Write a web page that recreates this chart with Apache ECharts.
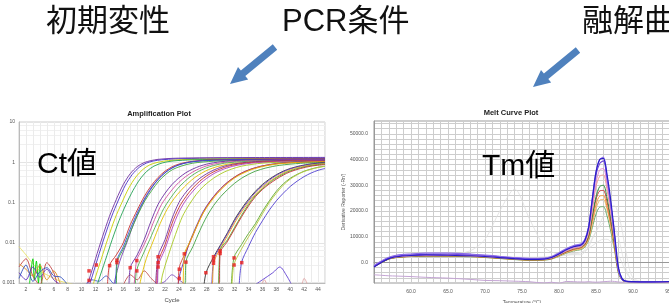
<!DOCTYPE html>
<html>
<head>
    <meta charset="utf-8">
    <title>PCR</title>
    <style>
        html, body { margin: 0; padding: 0; background: #fff; }
        #main { width: 669px; height: 303px; }
    </style>
</head>
<body>
<div id="main"></div>
<script src="https://cdn.jsdelivr.net/npm/echarts@6.0.0/dist/echarts.min.js"></script>
<script>
    // ---- Amplification Plot : [cycle, ΔRn] ----
    var ampA1 = [[10.5,0.0006],[11,0.0011],[12,0.004],[13,0.014],[14,0.045],[15,0.12],[16,0.28],[17,0.52],[18,0.78],[19,0.98],[20,1.1],[21,1.18],[23,1.25],[27,1.29],[35,1.31],[45,1.32]];
    var ampA2 = [[10.8,0.0006],[11.3,0.0011],[12.3,0.004],[13.3,0.014],[14.3,0.044],[15.3,0.115],[16.3,0.27],[17.3,0.5],[18.3,0.75],[19.3,0.95],[20.3,1.07],[21.5,1.15],[23.5,1.21],[28,1.25],[45,1.27]];
    var ampA3 = [[11.3,0.0006],[11.8,0.0011],[12.8,0.0038],[13.8,0.013],[14.8,0.04],[15.8,0.1],[16.8,0.23],[17.8,0.43],[18.8,0.66],[19.8,0.86],[21,1.0],[22.5,1.1],[25,1.17],[30,1.21],[45,1.23]];
    var ampA4 = [[11.9,0.0006],[12.4,0.0011],[13.4,0.0036],[14.4,0.012],[15.4,0.036],[16.4,0.09],[17.4,0.2],[18.4,0.38],[19.4,0.6],[20.4,0.8],[21.6,0.96],[23,1.07],[26,1.15],[32,1.19],[45,1.2]];

    var ampB1 = [[13.7,0.0006],[14,0.0027],[15,0.005],[16,0.01],[17,0.028],[18,0.065],[19,0.14],[20,0.26],[21,0.42],[22,0.6],[23,0.77],[24,0.9],[25.5,1.03],[28,1.13],[33,1.19],[45,1.22]];
    var ampB2 = [[14.4,0.0006],[14.8,0.0012],[15.5,0.0035],[16.5,0.01],[17.5,0.03],[18.5,0.075],[19.5,0.16],[20.5,0.29],[21.5,0.46],[22.5,0.64],[23.5,0.8],[24.5,0.92],[26,1.04],[29,1.13],[35,1.18],[45,1.2]];
    var ampB3 = [[14.9,0.0006],[15.1,0.0037],[16,0.008],[17,0.022],[18,0.055],[19,0.12],[20,0.23],[21,0.38],[22,0.55],[23,0.72],[24,0.86],[25.5,1.0],[28,1.1],[34,1.16],[45,1.18]];
    var ampB4 = [[15,0.0006],[15.1,0.0032],[16.1,0.0075],[17.1,0.02],[18.1,0.05],[19.1,0.11],[20.1,0.2],[21.1,0.34],[22.1,0.5],[23.1,0.66],[24.3,0.8],[26,0.95],[29,1.06],[35,1.12],[45,1.14]];

    var ampC1 = [[16.8,0.0006],[17,0.0024],[18,0.005],[19,0.012],[20,0.035],[21,0.09],[22,0.17],[23,0.28],[24,0.41],[25,0.55],[26,0.68],[27,0.8],[28,0.9],[30,1.03],[33,1.12],[38,1.17],[45,1.19]];
    var ampC2 = [[17.5,0.0006],[17.9,0.0036],[18.5,0.006],[19.5,0.014],[20.5,0.038],[21.5,0.09],[22.5,0.16],[23.5,0.26],[24.5,0.38],[25.5,0.51],[26.5,0.64],[27.5,0.76],[28.5,0.86],[30.5,0.99],[34,1.09],[45,1.15]];
    var ampC3 = [[17.7,0.0006],[17.9,0.002],[18.8,0.005],[19.8,0.012],[20.8,0.03],[21.8,0.07],[22.8,0.13],[23.8,0.22],[24.8,0.33],[25.8,0.46],[26.8,0.59],[27.8,0.71],[29,0.83],[31,0.97],[35,1.07],[45,1.12]];
    var ampC4 = [[18.2,0.0006],[18.5,0.0012],[19.3,0.004],[20.3,0.011],[21.3,0.03],[22.3,0.068],[23.3,0.125],[24.3,0.2],[25.3,0.3],[26.3,0.42],[27.3,0.54],[28.3,0.66],[29.5,0.78],[31.5,0.92],[36,1.04],[45,1.08]];

    var ampD1 = [[20.6,0.0006],[21,0.0045],[22,0.012],[23,0.04],[24,0.1],[25,0.18],[26,0.28],[27,0.4],[28,0.52],[29,0.64],[30,0.75],[31,0.84],[32.5,0.94],[35,1.04],[40,1.12],[45,1.15]];
    var ampD2 = [[20.8,0.0006],[21,0.0032],[22,0.009],[23,0.03],[24,0.075],[25,0.14],[26,0.23],[27,0.34],[28,0.46],[29,0.58],[30,0.69],[31,0.79],[32.5,0.9],[35,1.0],[40,1.08],[45,1.1]];
    var ampD3 = [[20.9,0.0006],[21,0.0025],[22,0.007],[23,0.022],[24,0.058],[25,0.115],[26,0.19],[27,0.29],[28,0.4],[29,0.52],[30,0.63],[31,0.73],[32.5,0.85],[35,0.97],[40,1.05],[45,1.07]];
    var ampD4 = [[21.3,0.0006],[21.6,0.0015],[22.5,0.005],[23.5,0.016],[24.5,0.045],[25.5,0.09],[26.5,0.16],[27.5,0.25],[28.5,0.35],[29.5,0.46],[30.5,0.57],[31.5,0.67],[33,0.8],[36,0.95],[41,1.02],[45,1.04]];

    var ampE1 = [[23.8,0.0006],[24,0.0013],[24.8,0.004],[25.5,0.01],[26.5,0.026],[27.5,0.06],[28.5,0.11],[29.5,0.18],[30.5,0.27],[31.5,0.37],[32.5,0.48],[33.5,0.59],[34.5,0.69],[36,0.81],[38,0.93],[41,1.03],[45,1.08]];
    var ampE2 = [[23.9,0.0006],[24,0.0022],[25,0.006],[26,0.015],[27,0.038],[28,0.08],[29,0.14],[30,0.22],[31,0.32],[32,0.43],[33,0.54],[34,0.64],[35,0.73],[36.5,0.84],[39,0.95],[45,1.04]];
    var ampE3 = [[24.6,0.0006],[24.8,0.0053],[25.5,0.01],[26.5,0.024],[27.5,0.055],[28.5,0.1],[29.5,0.165],[30.5,0.25],[31.5,0.35],[32.5,0.46],[33.5,0.56],[34.5,0.66],[36,0.78],[38,0.9],[41,0.99],[45,1.03]];
    var ampE4 = [[24.9,0.0006],[25,0.0033],[26,0.008],[27,0.02],[28,0.045],[29,0.085],[30,0.14],[31,0.21],[32,0.3],[33,0.4],[34,0.5],[35,0.6],[36.5,0.72],[38.5,0.84],[41.5,0.94],[45,0.99]];

    var ampF1 = [[27.5,0.0006],[27.9,0.0018],[29,0.0045],[30,0.009],[31,0.018],[32,0.038],[33,0.07],[34,0.12],[35,0.19],[36,0.28],[37,0.38],[38,0.49],[39,0.6],[40,0.7],[41.5,0.82],[43,0.91],[45,0.98]];
    var ampF2 = [[28.7,0.0006],[29,0.0037],[30,0.0085],[31,0.017],[32,0.035],[33,0.065],[34,0.11],[35,0.18],[36,0.26],[37,0.36],[38,0.47],[39,0.58],[40,0.68],[41.5,0.8],[43,0.89],[45,0.96]];
    var ampF3 = [[28.8,0.0006],[29,0.0031],[30,0.0075],[31,0.015],[32,0.031],[33,0.058],[34,0.1],[35,0.16],[36,0.24],[37,0.33],[38,0.43],[39,0.54],[40,0.64],[41.5,0.76],[43,0.85],[45,0.93]];
    var ampF4 = [[29.7,0.0006],[29.9,0.0063],[31,0.012],[32,0.024],[33,0.048],[34,0.09],[35,0.15],[36,0.22],[37,0.31],[38,0.41],[39,0.51],[40,0.61],[41.5,0.73],[43,0.83],[45,0.91]];
    var ampF5 = [[29.8,0.0006],[29.9,0.0054],[31,0.011],[32,0.022],[33,0.044],[34,0.082],[35,0.14],[36,0.21],[37,0.29],[38,0.38],[39,0.48],[40,0.58],[41.5,0.7],[43,0.8],[45,0.88]];

    var ampG1 = [[31.5,0.0006],[31.9,0.0042],[33,0.009],[34,0.017],[35,0.03],[36,0.06],[37,0.11],[38,0.19],[39,0.29],[40,0.4],[41,0.5],[42,0.6],[43,0.68],[44,0.75],[45,0.8]];
    var ampG2 = [[31.6,0.0006],[31.9,0.0028],[33,0.007],[34,0.014],[35,0.026],[36,0.052],[37,0.1],[38,0.17],[39,0.27],[40,0.38],[41,0.49],[42,0.59],[43,0.67],[44,0.74],[45,0.79]];
    var ampG3 = [[32.6,0.0006],[33,0.0032],[34,0.008],[35,0.018],[36,0.035],[37,0.065],[38,0.11],[39,0.17],[40,0.25],[41,0.34],[42,0.44],[43,0.54],[44,0.63],[45,0.7]];

    // バックグラウンドのノイズ
    var noise1 = [[1,0.008],[2,0.005],[3,0.003],[4,0.002],[5,0.0016],[6,0.0013],[7,0.0011],[8,0.001],[9,0.0009]];
    var noise2 = [[2.5,0.0009],[3,0.004],[3.2,0.0012],[3.5,0.0035],[3.8,0.001],[4,0.003],[4.3,0.0009]];
    var noise3 = [[1,0.0025],[2,0.004],[3,0.0015],[4,0.0009],[5,0.0032],[6,0.0018],[6.5,0.0009]];
    var noise4 = [[1,0.0018],[2,0.0012],[3,0.0025],[4,0.0014],[5,0.0022],[6,0.0012],[7,0.0009]];
    var noise5 = [[1,0.003],[2,0.0022],[3,0.0015],[4,0.0028],[5,0.0012],[6,0.002],[7,0.0009]];
    var noise6 = [[1,0.0013],[2,0.0028],[3,0.0011],[4,0.0019],[5,0.0024],[6,0.0015],[7,0.0014],[8,0.0009]];
    var noise7 = [[10.5,0.0009],[11.5,0.0012],[12.5,0.0011],[13.5,0.0015],[14.5,0.001],[15,0.0009]];
    var noise8 = [[34.5,0.0008],[36,0.0012],[37.5,0.0018],[38.5,0.0025],[39.5,0.0015],[40.2,0.0009]];
    var noise9 = [[35.8,0.0008],[36.3,0.0012],[36.8,0.0009],[41.5,0.0009],[42,0.0013],[42.5,0.0009]];
    var noise10 = [[16,0.0009],[17,0.0016],[18,0.0012],[19,0.002],[20,0.0013],[21,0.0009]];
    var noise11 = [[21,0.0009],[22,0.0011],[23,0.0016],[24,0.0012],[25,0.0009]];

    // Ct 値のマーカー
    var ctPoints = [[11.07,0.002],[11.07,0.00116],[12.12,0.0028],[14.03,0.0027],[15.08,0.0037],[15.08,0.0032],
        [16.99,0.0024],[17.94,0.0036],[17.94,0.002],[21.0,0.0045],[21.0,0.0032],[21.0,0.0025],
        [24.05,0.0022],[24.05,0.0013],[24.77,0.0053],[25.0,0.0033],[27.87,0.0018],[28.97,0.0045],
        [28.97,0.0037],[28.97,0.0031],[29.92,0.0063],[29.92,0.0054],[31.93,0.0042],[31.93,0.0028],[33.03,0.0032]];

    // ---- Melt Curve Plot : 温度 と -Rn' ----
    var meltTemps = [55,56,57,58,60,62,65,68,70,72,74,76,78,79,80,81,82,83,83.5,84,84.5,85,85.5,86,86.5,87,87.5,88,88.5,89,90,92,95];
    var meltP1 = [-1200,600,2000,2800,3300,3600,3600,3300,2900,2400,1900,1600,1700,2300,3800,5400,6600,7300,9000,14000,25000,35500,40000,41000,33000,22500,10000,-3000,-6600,-7400,-7600,-7600,-7500];
    var meltP2 = [-1800,0,1500,2200,2700,2900,2800,2600,2300,1900,1500,1200,1300,1900,3300,4900,6100,6800,8500,13500,24500,35000,40000,40500,34000,24000,11500,-1500,-6200,-7300,-7500,-7600,-7400];
    var meltP3 = [-1500,300,1700,2500,3000,3200,3200,3000,2700,2200,1700,1400,1500,2100,3500,5100,6300,7000,8700,13500,24000,34000,38500,39500,32500,22500,10500,-2000,-6300,-7300,-7500,-7600,-7500];
    var meltP4 = [-1300,300,1600,2200,2600,2800,2800,2600,2300,1900,1500,1200,1300,1800,3100,4600,5700,6300,7800,12000,21000,31000,36000,36500,30000,20500,9000,-2500,-6400,-7300,-7500,-7600,-7500];
    var meltP5 = [-1600,0,1400,2000,2400,2600,2600,2400,2100,1700,1300,1000,1100,1600,2900,4300,5400,6000,7200,10500,18000,25500,29500,30000,25000,17000,7500,-3000,-6600,-7400,-7500,-7600,-7500];
    var meltP6 = [-1700,-100,1300,1900,2300,2500,2500,2300,2000,1600,1200,900,1000,1500,2700,4000,5000,5600,6700,9500,16000,22500,25800,26000,21500,14500,6000,-3500,-6700,-7400,-7500,-7600,-7500];
    var meltP7 = [-1600,0,1400,2000,2400,2600,2500,2300,2000,1600,1200,900,1000,1400,2500,3800,4700,5300,6300,9000,15000,21000,24200,24500,20500,14000,6000,-3500,-6700,-7400,-7500,-7600,-7500];
    var meltP8 = [-1700,-100,1300,1900,2300,2500,2400,2200,1900,1500,1100,800,900,1300,2400,3600,4500,5000,6000,8500,13500,18800,21500,21700,18000,12000,5000,-4000,-6800,-7400,-7500,-7600,-7500];
    var meltP9 = [-1400,200,1500,2100,2500,2700,2700,2500,2200,1800,1400,1100,1200,1700,3000,4400,5500,6100,7500,11500,20000,29500,33500,34000,28000,19000,8500,-2500,-6400,-7300,-7500,-7600,-7500];
    var meltP10 = [-1500,100,1400,2000,2400,2600,2600,2400,2100,1700,1300,1000,1100,1500,2800,4100,5200,5800,7000,10000,17500,24500,27800,28000,23500,16000,7000,-3000,-6600,-7400,-7500,-7600,-7500];
    var meltLow = [-4800,-5000,-5200,-5300,-5500,-5800,-6100,-6600,-7000,-7100,-7300,-7500,-8000,-7700,-8100,-7400,-7500,-7600,-7600,-7500,-7600,-7700,-7600,-7500,-7400,-7300,-7400,-7600,-7700,-7600,-7500,-7400,-7600];
    var ghost1 = [-1000,500,1500,2000,2300,2600,3000,4500,9000,20000,28500,17000,6000,4000,3500,3500,3500,4000,4500,5500,6500,7500,8500,9000,9000,8000,6000,3000,0,-3500,-7000,-7500,-7500];
    var ghost2 = [-1200,400,1400,1900,2200,2400,2500,2400,2300,2200,2100,2000,2100,2300,2600,2900,3000,3000,4000,6000,9000,12000,15000,18000,20500,22000,22000,19000,13000,5000,-6000,-7500,-7500];
    var ghost3 = [-1300,300,1300,1800,2100,2300,2300,2200,2100,2000,1900,1900,2000,2200,2500,2800,3200,3800,5000,7000,9500,12000,14000,15500,16000,16000,14000,10000,4000,-2000,-7000,-7500,-7500];

    var ampLines = [
        [ampA1, '#7030a0'], [ampA2, '#4a30c8'], [ampA3, '#c8d000'], [ampA4, '#20a050'],
        [ampB1, '#c83030'], [ampB2, '#7040b0'], [ampB3, '#3050d0'], [ampB4, '#40a840'],
        [ampC1, '#6a2aa0'], [ampC2, '#d050a0'], [ampC3, '#50b050'], [ampC4, '#e0c000'],
        [ampD1, '#7030a0'], [ampD2, '#c83030'], [ampD3, '#b040c0'], [ampD4, '#a8c820'],
        [ampE1, '#6030b0'], [ampE2, '#d04040'], [ampE3, '#e8b800'], [ampE4, '#40a040'],
        [ampF1, '#303030'], [ampF2, '#6a40c0'], [ampF3, '#f0a020'], [ampF4, '#50b030'], [ampF5, '#c03030'],
        [ampG1, '#60a830'], [ampG2, '#b8c840'], [ampG3, '#5040d0']
    ];
    var noiseLines = [
        [noise1, '#e8e060'], [noise2, '#00d000'], [noise3, '#c04040'], [noise4, '#6030c0'],
        [noise5, '#e09020'], [noise6, '#3050c0'], [noise7, '#4060d0'], [noise8, '#6040d0'],
        [noise9, '#e0a0a0'], [noise10, '#c05050'], [noise11, '#8050c0']
    ];
    var meltLines = [
        [ghost1, '#dedede', 0.8], [ghost2, '#dedede', 0.8], [ghost3, '#e2e2e2', 0.8],
        [meltLow, '#c4a4d4', 1],
        [meltP8, '#6aaa6a', 1], [meltP7, '#e6b870', 1], [meltP6, '#f29a3a', 1], [meltP10, '#c83c3c', 1],
        [meltP5, '#2e8b3e', 1], [meltP9, '#f0a090', 1], [meltP4, '#e08ad0', 1],
        [meltP3, '#7048d8', 1.1], [meltP1, '#8a6ae8', 1.1], [meltP2, '#2a1cc8', 1.2]
    ];

    var myChart = echarts.init(document.getElementById('main'), null, {renderer: 'canvas'});

    var series = [];
    noiseLines.concat(ampLines).forEach(function (item) {
        series.push({
            type: 'line', xAxisIndex: 0, yAxisIndex: 0,
            data: item[0], symbol: 'none', smooth: 0.3, silent: true,
            lineStyle: {width: 0.9, color: item[1]}, itemStyle: {color: item[1]}
        });
    });
    series.push({
        type: 'scatter', xAxisIndex: 0, yAxisIndex: 0, data: ctPoints,
        symbol: 'rect', symbolSize: 3.5, silent: true, z: 5,
        itemStyle: {color: '#e81e1e'}
    });
    meltLines.forEach(function (item) {
        series.push({
            type: 'line', xAxisIndex: 1, yAxisIndex: 1,
            data: meltTemps.map(function (t, i) { return [t, item[0][i]]; }),
            symbol: 'none', smooth: 0.3, silent: true,
            lineStyle: {width: item[2], color: item[1]}, itemStyle: {color: item[1]}
        });
    });

    var smallLabel = {fontSize: 5, color: '#555', fontFamily: 'Liberation Sans'};
    var bigFont = '"Liberation Sans", "Noto Sans CJK JP", sans-serif';

    // 矢印 (先端を原点に)
    var arrowPts = [[42.8,-39.7],[10.9,-13.5],[8,-17],[0,0],[18.2,-4.6],[15.3,-8.1],[47.2,-34.3]];

    option = {
        animation: false,
        backgroundColor: '#fff',
        grid: [
            {left: 19, top: 122, width: 306, height: 161, show: true, borderColor: '#cccccc', borderWidth: 1, outerBoundsMode: 'none'},
            {left: 374, top: 121, width: 296, height: 162, show: true, borderColor: '#9a9a9a', borderWidth: 1, outerBoundsMode: 'none'}
        ],
        xAxis: [
            {
                type: 'value', gridIndex: 0, min: 1, max: 45, interval: 1,
                axisLine: {lineStyle: {color: '#bbbbbb'}}, axisTick: {show: false},
                axisLabel: Object.assign({margin: 4, formatter: function (v) { return v % 2 === 0 ? String(v) : ''; }}, smallLabel),
                splitLine: {lineStyle: {color: '#ebebeb', width: 1}},
                name: 'Cycle', nameLocation: 'middle', nameGap: 11,
                nameTextStyle: {fontSize: 6, color: '#444', fontFamily: 'Liberation Sans'}
            },
            {
                type: 'value', gridIndex: 1, min: 55, max: 95, interval: 1,
                axisLine: {lineStyle: {color: '#999999'}}, axisTick: {show: false},
                axisLabel: Object.assign({margin: 6, showMinLabel: false, formatter: function (v) { return (v % 5 === 0 && v > 55) ? v.toFixed(1) : ''; }}, smallLabel),
                splitLine: {lineStyle: {color: '#cdcdcd', width: 1}},
                name: 'Temperature (°C)', nameLocation: 'middle', nameGap: 17,
                nameTextStyle: {fontSize: 5, color: '#555', fontFamily: 'Liberation Sans'}
            }
        ],
        yAxis: [
            {
                type: 'log', logBase: 10, gridIndex: 0, min: 0.001, max: 10,
                axisLine: {show: true, lineStyle: {color: '#bbbbbb'}}, axisTick: {show: false},
                axisLabel: Object.assign({margin: 4, formatter: function (v) { return String(parseFloat(v.toPrecision(2))); }}, smallLabel),
                splitLine: {lineStyle: {color: '#e4e4e4'}},
                minorTick: {show: false, splitNumber: 5},
                minorSplitLine: {show: true, lineStyle: {color: '#f0f0f0'}},
                name: 'ΔRn', nameLocation: 'middle', nameGap: 15, nameRotate: 90,
                nameTextStyle: {fontSize: 5, color: '#666', fontFamily: 'DejaVu Sans'}
            },
            {
                type: 'value', gridIndex: 1, min: -8000, max: 55000, interval: 2000,
                axisLine: {show: true, lineStyle: {color: '#999999'}}, axisTick: {show: false},
                axisLabel: Object.assign({margin: 6, formatter: function (v) { return (v % 10000 === 0 && v >= 0 && v <= 50000) ? v.toFixed(1) : ''; }}, smallLabel),
                splitLine: {lineStyle: {color: '#cdcdcd'}},
                name: "Derivative Reporter (-Rn')", nameLocation: 'middle', nameGap: 28, nameRotate: 90,
                nameTextStyle: {fontSize: 5, color: '#555', fontFamily: 'Liberation Sans'}
            }
        ],
        graphic: [
            {type: 'text', x: 159, y: 114, z: 10, style: {text: 'Amplification Plot', align: 'center', verticalAlign: 'middle', fontSize: 7.5, fontWeight: 'bold', fontFamily: 'Liberation Sans', fill: '#222'}},
            {type: 'text', x: 511, y: 113, z: 10, style: {text: 'Melt Curve Plot', align: 'center', verticalAlign: 'middle', fontSize: 7.5, fontWeight: 'bold', fontFamily: 'Liberation Sans', fill: '#222'}},
            {type: 'text', x: 46, y: 22, z: 10, style: {text: '初期変性', align: 'left', verticalAlign: 'middle', fontSize: 31, fontFamily: bigFont, fill: '#111'}},
            {type: 'text', x: 282, y: 22, z: 10, style: {text: 'PCR条件', align: 'left', verticalAlign: 'middle', fontSize: 31, fontFamily: bigFont, fill: '#111'}},
            {type: 'text', x: 582, y: 22, z: 10, style: {text: '融解曲', align: 'left', verticalAlign: 'middle', fontSize: 31, fontFamily: bigFont, fill: '#111'}},
            {type: 'text', x: 37, y: 165, z: 10, style: {text: 'Ct値', align: 'left', verticalAlign: 'middle', fontSize: 30, fontFamily: bigFont, fill: '#000'}},
            {type: 'text', x: 482, y: 167, z: 10, style: {text: 'Tm値', align: 'left', verticalAlign: 'middle', fontSize: 30, fontFamily: bigFont, fill: '#000'}},
            {type: 'polygon', x: 230, y: 84, z: 10, shape: {points: arrowPts}, style: {fill: '#4f81bd'}},
            {type: 'polygon', x: 533, y: 87, z: 10, shape: {points: arrowPts}, style: {fill: '#4f81bd'}}
        ],
        series: series
    };
    myChart.setOption(option);
</script>
</body>
</html>
